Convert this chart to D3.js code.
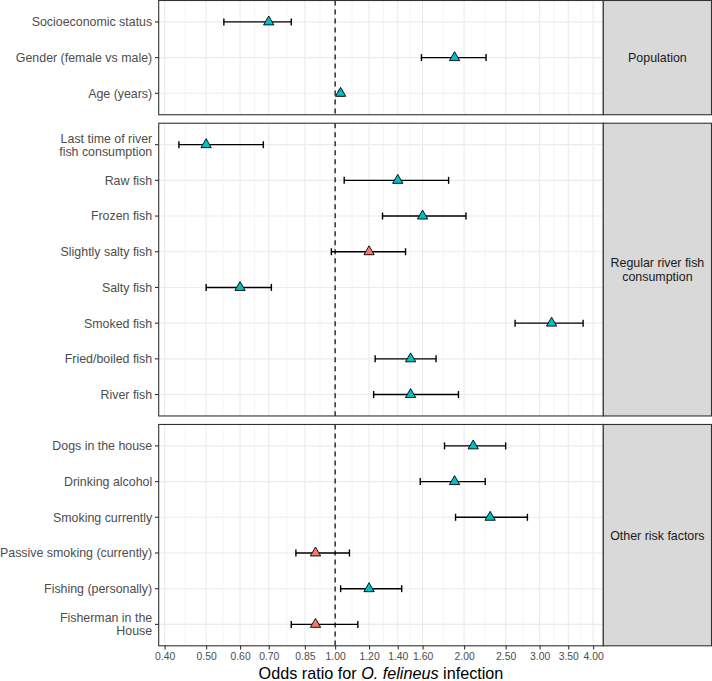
<!DOCTYPE html>
<html>
<head>
  <meta charset="utf-8">
  <style>
    body { margin: 0; background: #ffffff; }
    text { font-family: "Liberation Sans", Arial, sans-serif; }
  </style>
</head>
<body>
  <div id="chart"></div>
  <script src="https://cdn.jsdelivr.net/npm/d3@7"></script>
  <script>
    // facet strips, top to bottom
    var panels = ['Population', 'Regular river fish\nconsumption', 'Other risk factors'];

    // risk factors, top to bottom, with the facet they belong to
    var factors = [
      'Socioeconomic status', 'Gender (female vs male)', 'Age (years)',
      'Last time of river\nfish consumption', 'Raw fish', 'Frozen fish', 'Slightly salty fish',
      'Salty fish', 'Smoked fish', 'Fried/boiled fish', 'River fish',
      'Dogs in the house', 'Drinking alcohol', 'Smoking currently',
      'Passive smoking (currently)', 'Fishing (personally)', 'Fisherman in the\nHouse'
    ];
    var panelOf = [0, 0, 0, 1, 1, 1, 1, 1, 1, 1, 1, 2, 2, 2, 2, 2, 2];

    var oddsRatio = [0.70, 1.90, 1.03, 0.50, 1.40, 1.60, 1.20, 0.60, 3.20, 1.50, 1.50, 2.10, 1.90, 2.30, 0.90, 1.20, 0.90];
    var lowerCI   = [0.55, 1.59, 1.02, 0.432, 1.05, 1.29, 0.98, 0.50, 2.63, 1.24, 1.23, 1.80, 1.58, 1.91, 0.81, 1.03, 0.79];
    var upperCI   = [0.79, 2.25, 1.04, 0.68, 1.84, 2.02, 1.46, 0.71, 3.79, 1.72, 1.94, 2.50, 2.24, 2.81, 1.08, 1.43, 1.13];

    var tickValues = [0.40, 0.50, 0.60, 0.70, 0.85, 1.00, 1.20, 1.40, 1.60, 2.00, 2.50, 3.00, 3.50, 4.00];

    var width = 712, height = 681;
    var plotLeft = 158.7, plotRight = 603.3, stripRight = 711.5;
    var plotTop = 0.5, plotBottom = 645.8, gap = 8.5;
    var fontSize = 12.4;

    var svg = d3.select('#chart').append('svg')
      .attr('width', width)
      .attr('height', height)
      .style('background', '#ffffff');

    var rows = factors.map(function (f, i) {
      return { name: f, panel: panelOf[i], or: oddsRatio[i], lo: lowerCI[i], hi: upperCI[i] };
    });

    // log x scale with ggplot-like 5% expansion
    var lnMin = Math.log(d3.min(lowerCI)), lnMax = Math.log(d3.max(upperCI));
    var pad = (lnMax - lnMin) * 0.05;
    var x = d3.scaleLog()
      .domain([Math.exp(lnMin - pad), Math.exp(lnMax + pad)])
      .range([plotLeft, plotRight]);

    // minor breaks: midpoints between major ticks in log space
    var minor = [];
    for (var i = 0; i < tickValues.length - 1; i++) {
      minor.push(Math.sqrt(tickValues[i] * tickValues[i + 1]));
    }

    // panel heights in proportion to number of rows
    var units = panels.map(function (p, k) {
      return rows.filter(function (r) { return r.panel === k; }).length - 1 + 1.2;
    });
    var unit = (plotBottom - plotTop - gap * (panels.length - 1)) / d3.sum(units);

    var y0 = plotTop;
    panels.forEach(function (p, k) {
      var data = rows.filter(function (r) { return r.panel === k; });
      var h = units[k] * unit;
      var y = d3.scalePoint()
        .domain(data.map(function (d) { return d.name; }))
        .range([y0, y0 + h])
        .padding(0.6);

      var g = svg.append('g');

      // grid
      g.selectAll('.minor').data(minor).enter().append('line')
        .attr('x1', function (d) { return x(d); }).attr('x2', function (d) { return x(d); })
        .attr('y1', y0).attr('y2', y0 + h)
        .style('stroke', '#ebebeb').style('stroke-width', 0.55);
      g.selectAll('.major').data(tickValues).enter().append('line')
        .attr('x1', function (d) { return x(d); }).attr('x2', function (d) { return x(d); })
        .attr('y1', y0).attr('y2', y0 + h)
        .style('stroke', '#ebebeb').style('stroke-width', 1.1);
      g.selectAll('.hgrid').data(data).enter().append('line')
        .attr('x1', plotLeft).attr('x2', plotRight)
        .attr('y1', function (d) { return y(d.name); }).attr('y2', function (d) { return y(d.name); })
        .style('stroke', '#ebebeb').style('stroke-width', 1.1);

      // reference line at OR = 1
      g.append('line')
        .attr('x1', x(1)).attr('x2', x(1))
        .attr('y1', y0).attr('y2', y0 + h)
        .style('stroke', '#000000').style('stroke-width', 1.2)
        .style('stroke-dasharray', '5,4');

      // error bars
      var cap = 3.5;
      var bars = g.selectAll('.bar').data(data).enter().append('g');
      bars.append('line')
        .attr('x1', function (d) { return x(d.lo); }).attr('x2', function (d) { return x(d.hi); })
        .attr('y1', function (d) { return y(d.name); }).attr('y2', function (d) { return y(d.name); });
      bars.append('line')
        .attr('x1', function (d) { return x(d.lo); }).attr('x2', function (d) { return x(d.lo); })
        .attr('y1', function (d) { return y(d.name) - cap; }).attr('y2', function (d) { return y(d.name) + cap; });
      bars.append('line')
        .attr('x1', function (d) { return x(d.hi); }).attr('x2', function (d) { return x(d.hi); })
        .attr('y1', function (d) { return y(d.name) - cap; }).attr('y2', function (d) { return y(d.name) + cap; });
      bars.selectAll('line').style('stroke', '#000000').style('stroke-width', 1.4);

      // points
      g.selectAll('.pt').data(data).enter().append('path')
        .attr('d', d3.symbol().type(d3.symbolTriangle).size(46))
        .attr('transform', function (d) { return 'translate(' + x(d.or) + ',' + y(d.name) + ')'; })
        .style('fill', function (d) { return (d.lo > 1 || d.hi < 1) ? '#00bfc4' : '#f8766d'; })
        .style('stroke', '#000000').style('stroke-width', 0.9);

      // panel border
      g.append('rect')
        .attr('x', plotLeft).attr('y', y0).attr('width', plotRight - plotLeft).attr('height', h)
        .style('fill', 'none').style('stroke', '#333333').style('stroke-width', 1.1);

      // strip
      g.append('rect')
        .attr('x', plotRight).attr('y', y0).attr('width', stripRight - plotRight).attr('height', h)
        .style('fill', '#d9d9d9').style('stroke', '#333333').style('stroke-width', 1.1);
      var lines = p.split('\n');
      var st = g.append('text')
        .attr('x', (plotRight + stripRight) / 2)
        .attr('y', y0 + h / 2 - (lines.length - 1) * 6.7 + 4.4)
        .attr('text-anchor', 'middle')
        .style('font-size', fontSize + 'px').style('fill', '#1a1a1a');
      lines.forEach(function (l, j) {
        st.append('tspan').attr('x', (plotRight + stripRight) / 2).attr('dy', j ? 13.4 : 0).text(l);
      });

      // y axis ticks and labels
      g.selectAll('.ytick').data(data).enter().append('line')
        .attr('x1', plotLeft - 3.7).attr('x2', plotLeft)
        .attr('y1', function (d) { return y(d.name); }).attr('y2', function (d) { return y(d.name); })
        .style('stroke', '#333333').style('stroke-width', 1.1);
      g.selectAll('.ylab').data(data).enter().append('text')
        .attr('text-anchor', 'end')
        .style('font-size', fontSize + 'px').style('fill', '#4d4d4d')
        .each(function (d) {
          var parts = d.name.split('\n');
          var t = d3.select(this)
            .attr('y', y(d.name) - (parts.length - 1) * 6.5 + 4.4);
          parts.forEach(function (s, j) {
            t.append('tspan').attr('x', plotLeft - 6.5).attr('dy', j ? 13 : 0).text(s);
          });
        });

      // x axis under the last panel
      if (k === panels.length - 1) {
        var ax = svg.append('g')
          .attr('transform', 'translate(0,' + (y0 + h) + ')')
          .call(d3.axisBottom(x).tickValues(tickValues).tickSize(3.7).tickPadding(3.5)
            .tickFormat(d3.format('.2f')));
        ax.select('.domain').remove();
        ax.selectAll('line').style('stroke', '#333333').style('stroke-width', 1.1);
        ax.selectAll('text')
          .style('font-size', '10.4px').style('fill', '#4d4d4d')
          .style('font-family', '"Liberation Sans", Arial, sans-serif');
      }

      y0 += h + gap;
    });

    // x axis title
    var title = svg.append('text')
      .attr('x', (plotLeft + plotRight) / 2)
      .attr('y', 678.5)
      .attr('text-anchor', 'middle')
      .style('font-size', '16.2px').style('fill', '#000000');
    title.append('tspan').text('Odds ratio for ');
    title.append('tspan').style('font-style', 'italic').text('O. felineus');
    title.append('tspan').text(' infection');
  </script>
</body>
</html>
